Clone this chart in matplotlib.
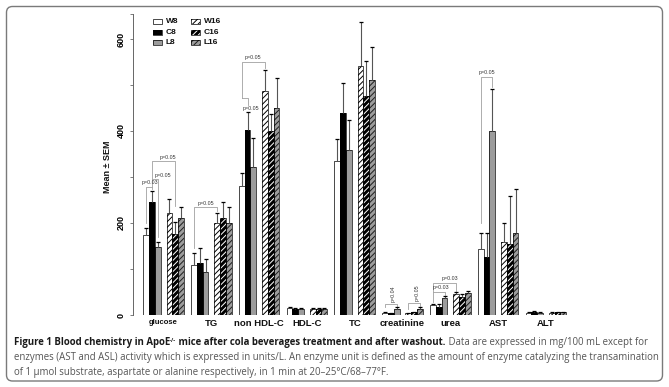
import numpy as np
import matplotlib
matplotlib.use('Agg')
import matplotlib.pyplot as plt
from matplotlib.patches import Rectangle, FancyBboxPatch
from matplotlib.transforms import IdentityTransform

plt.rcParams['font.family'] = ['Liberation Sans', 'DejaVu Sans']
plt.rcParams['hatch.linewidth'] = 0.7

# ---- data (mg/100 mL, units/L for AST/ALT) ----
groups = ['glucose', 'TG', 'non HDL-C', 'HDL-C', 'TC', 'creatinine', 'urea', 'AST', 'ALT']
series = ['W8', 'C8', 'L8', 'W16', 'C16', 'L16']

W8 = [174, 109, 280, 15, 335, 5, 22, 143, 5]
C8 = [246, 114, 402, 14, 440, 4, 18, 127, 7]
L8 = [147, 94, 321, 14, 359, 13, 36, 401, 5]
W16 = [222, 199, 488, 13, 541, 4, 45, 159, 5]
C16 = [177, 210, 400, 13, 476, 6, 40, 154, 6]
L16 = [211, 201, 451, 14, 511, 13, 47, 178, 6]

W8_sem = [16, 25, 28, 2, 47, 1, 3, 36, 1.5]
C8_sem = [24, 32, 40, 2, 65, 1, 7, 52, 1.5]
L8_sem = [12, 28, 63, 2, 65, 5, 5, 90, 1.5]
W16_sem = [30, 22, 45, 2, 96, 1, 4, 40, 1.5]
C16_sem = [26, 36, 38, 2, 77, 1, 6, 105, 1.5]
L16_sem = [24, 34, 65, 2, 71, 5, 5, 97, 1.5]

values = [W8, C8, L8, W16, C16, L16]
sems = [W8_sem, C8_sem, L8_sem, W16_sem, C16_sem, L16_sem]

# significance brackets: group, bar a, bar b, height, leg ends, label, text shift, text y, rotated
brackets = [
    (0, 0, 1, 279, 200, 274, 'p=0.03', 0.15, None, False),
    (0, 1, 2, 295, 279, 170, 'p=0.05', 1.4, None, False),
    (0, 1, 4, 335, 295, 236, 'p=0.05', 0.8, None, False),
    (1, 0, 3, 235, 145, 226, 'p=0.05', 0.0, None, False),
    (2, 0, 3, 551, 471, 537, 'p=0.05', 0.0, None, False),
    (2, 0, 1, 471, 471, 456, 'p=0.05', 1.1, 449, False),
    (5, 0, 2, 25, 17, 17, 'p=0.04', 0.3, 47, True),
    (5, 3, 5, 27, 14, 20, 'p=0.05', 0.5, 49, True),
    (6, 0, 2, 51, 29, 44, 'p=0.03', 0.45, None, False),
    (6, 0, 3, 70, 51, 51, 'p=0.03', 1.0, None, False),
    (7, 0, 2, 518, 200, 496, 'p=0.05', 0.0, None, False),
]

W, H = 669, 387
fig = plt.figure(figsize=(W / 100, H / 100), dpi=100)

# layout in pixels
x0px = 143.3      # left edge of first bar
bw = 5.8          # one bar width
pitch = 8.24      # group pitch in bar widths
ax_l, ax_r = 133, 580
y0px = 315
ppu = 0.46
ymax = 655
ax = fig.add_axes([ax_l / W, 1 - y0px / H, (ax_r - ax_l) / W, ymax * ppu / H])
ax.set_xlim((ax_l - x0px) / bw, (ax_r - x0px) / bw)
ax.set_ylim(0, ymax)

offsets = [0.5, 1.5, 2.5, 4.5, 5.5, 6.5]
gray = '#9c9c9c'
styles = [
    dict(face='white', hcol='black', hatch=None),
    dict(face='black', hcol='black', hatch=None),
    dict(face=gray, hcol=gray, hatch=None),
    dict(face='white', hcol='black', hatch='//////'),
    dict(face='black', hcol='white', hatch='//////'),
    dict(face=gray, hcol='#1e1e1e', hatch='//////'),
]

gx = np.arange(len(groups)) * pitch
for k in range(6):
    xs = gx + offsets[k]
    v = np.array(values[k], dtype=float)
    e = np.array(sems[k], dtype=float)
    st = styles[k]
    ax.bar(xs, v, width=1, color=st['face'], edgecolor=st['hcol'], hatch=st['hatch'],
           linewidth=0, zorder=2)
    ax.bar(xs, v, width=1, fill=False, edgecolor='black', linewidth=0.5, zorder=3)
    ax.vlines(xs, v, v + e, color='#555555', lw=0.8, zorder=4)
    ax.plot(xs, v + e, ls='none', marker='_', ms=2.6, mew=0.9, color='black', zorder=5)

for g, a, b, h, la, lb, lab, dx, ty, rot in brackets:
    xa = gx[g] + offsets[a]
    xb = gx[g] + offsets[b]
    ax.plot([xa, xa, xb, xb], [la, h, h, lb], color='#a0a0a0', lw=0.6, zorder=1)
    xm = (xa + xb) / 2 + dx
    if rot:
        ax.text(xm, ty, lab, rotation=90, ha='center', va='center', fontsize=3.8, color='#333333')
    elif ty is not None:
        ax.text(xm, ty, lab, ha='center', va='center', fontsize=3.8, color='#333333')
    else:
        ax.text(xm, h + 3, lab, ha='center', va='bottom', fontsize=3.8, color='#333333')

for s in ['top', 'right', 'bottom']:
    ax.spines[s].set_visible(False)
ax.spines['left'].set_color('#666666')
ax.spines['left'].set_linewidth(0.7)
ax.set_xticks([])
ticks = [0, 100, 200, 300, 400, 500, 600, ymax]
ax.set_yticks(ticks)
ax.set_yticklabels(['0', '', '200', '', '400', '', '600', ''], rotation=90, va='center')
ax.tick_params(axis='y', length=2.5, width=0.6, color='#666666', pad=3, labelsize=6.5)
for t in ax.get_yticklabels():
    t.set_fontweight('bold')

lab_y = (y0px - 323) / (ymax * ppu)
for g, name in enumerate(groups):
    fs = 5.5 if name == 'glucose' else 6.8
    ax.text(gx[g] + 3.5, lab_y, name, transform=ax.get_xaxis_transform(), ha='center',
            va='center', fontsize=fs, fontweight='bold', color='#111111')

fig.text(107 / W, 1 - 167 / H, 'Mean \u00b1 SEM', rotation=90, ha='center', va='center',
         fontsize=6.5, fontweight='bold', color='#111111')

# legend, drawn in pixel coordinates
ident = IdentityTransform()
rows = [21.5, 32, 42.5]
for k, name in enumerate(series):
    col, row = divmod(k, 3)
    px = [152.5, 190.5][col]
    py = rows[row]
    st = styles[k]
    fig.add_artist(Rectangle((px, H - py - 2.5), 9.5, 5, transform=ident, facecolor=st['face'],
                             edgecolor=st['hcol'], hatch=st['hatch'], linewidth=0))
    fig.add_artist(Rectangle((px, H - py - 2.5), 9.5, 5, transform=ident, fill=False,
                             edgecolor='black', linewidth=0.5))
    fig.text((px + 13.5) / W, 1 - py / H, name, ha='left', va='center', fontsize=6,
             fontweight='bold', color='#111111')

# frame
fig.add_artist(FancyBboxPatch((6.5, H - 381), 656, 374.5, boxstyle='round,pad=0,rounding_size=6',
                              transform=ident, fill=False, edgecolor='#7a7a7a', linewidth=1.0))

# caption
cap_font = ['Open Sans', 'DejaVu Sans']
r = fig.canvas.get_renderer()


def width_of(pieces, fs):
    tot = 0
    for txt, bold, scale in pieces:
        t = fig.text(0, 0, txt, fontsize=fs * scale, family=cap_font,
                     fontweight='bold' if bold else 'normal')
        tot += t.get_window_extent(renderer=r).width
        t.remove()
    return tot


def draw(pieces, x, y, fs):
    for txt, bold, scale in pieces:
        yy = y - 3 if scale < 1 else y
        t = fig.text(x / W, 1 - yy / H, txt, fontsize=fs * scale, family=cap_font,
                     fontweight='bold' if bold else 'normal', va='baseline',
                     color='#1a1a1a' if bold else '#555555')
        x += t.get_window_extent(renderer=r).width


line1 = [('Figure 1 Blood chemistry in ApoE', True, 1), ('-/-', True, 0.6),
         (' mice after cola beverages treatment and after washout.', True, 1),
         (' Data are expressed in mg/100 mL except for', False, 1)]
line2 = [('enzymes (AST and ASL) activity which is expressed in units/L. An enzyme unit is '
          'defined as the amount of enzyme catalyzing the transamination', False, 1)]
line3 = [('of 1 \u03bcmol substrate, aspartate or alanine respectively, in 1 min at '
          '20\u201325\u00b0C/68\u201377\u00b0F.', False, 1)]

target = 641
fs2 = 10 * target / width_of(line2, 10)
fs1 = 10 * target / width_of(line1, 10)
draw(line1, 14, 345, fs1)
draw(line2, 14, 360, fs2)
draw(line3, 14, 375, fs2)

fig.savefig('out.png', dpi=100)
